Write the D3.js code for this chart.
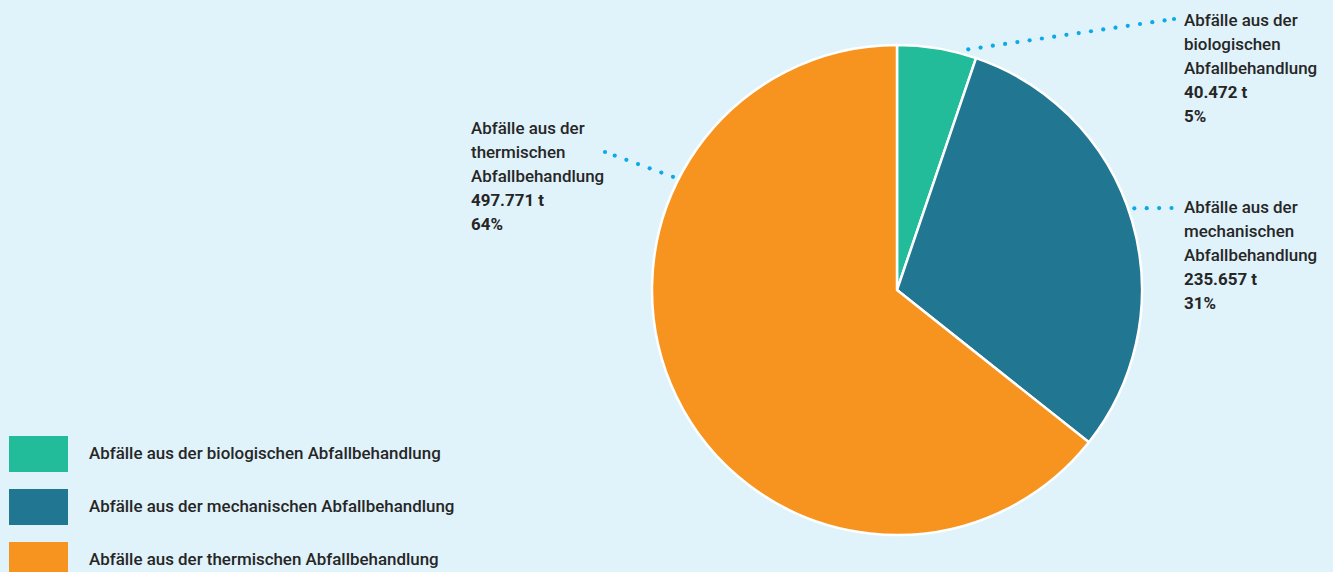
<!DOCTYPE html>
<html><head><meta charset="utf-8">
<script src="https://cdn.jsdelivr.net/npm/d3@7"></script>
<style>
html,body{margin:0;padding:0;background:#e0f2fa;}
svg{display:block;font-family:Roboto,"Liberation Sans",Arial,sans-serif;}
</style></head><body>
<svg id="chart" width="1333" height="572"></svg>
<script>
const categories = ["Abfälle aus der biologischen Abfallbehandlung","Abfälle aus der mechanischen Abfallbehandlung","Abfälle aus der thermischen Abfallbehandlung"];
const labelLines = [["Abfälle aus der","biologischen","Abfallbehandlung"],["Abfälle aus der","mechanischen","Abfallbehandlung"],["Abfälle aus der","thermischen","Abfallbehandlung"]];
const values = [40472, 235657, 497771];
const valueLabels = ["40.472 t","235.657 t","497.771 t"];
const percentLabels = ["5%","31%","64%"];
const colors = ["#23bc9b","#217691","#f7941f"];

const W=1333,H=572, cx=897, cy=290, R=245;
const svg=d3.select("#chart");
svg.append("rect").attr("width",W).attr("height",H).attr("fill","#e0f2fa");

// fit font size so the first legend entry is ~352px wide
const probe=svg.append("text").attr("font-size",16).attr("font-weight",500).text(categories[0]);
const fs=Math.min(18,Math.max(14,16*352/probe.node().getComputedTextLength()));
probe.remove();

const pie=d3.pie().sort(null).value(d=>d)(values);
const arc=d3.arc().innerRadius(0).outerRadius(R);
const g=svg.append("g").attr("transform",`translate(${cx},${cy})`);
g.selectAll("path").data(pie).join("path").attr("d",arc).attr("fill",(d,i)=>colors[i]).attr("stroke","#fff").attr("stroke-width",2.5).attr("stroke-linejoin","round");

// label layout
const labelPos=[{x:1184,y:26,leadAngle:16.5,end:[1174,19]},{x:1184,y:213,leadAngle:71,end:[1172,208]},{x:471,y:134,leadAngle:296.8,end:[605,152]}];
const lh=24;
labelPos.forEach((p,i)=>{
  const a=p.leadAngle*Math.PI/180, rr=R+6;
  const s=[cx+rr*Math.sin(a), cy-rr*Math.cos(a)];
  const e=p.end;
  const len=Math.hypot(e[0]-s[0],e[1]-s[1]);
  const n=Math.floor(len/12.4);
  const pts=d3.range(n+1).map(k=>[s[0]+(e[0]-s[0])*k*12.4/len, s[1]+(e[1]-s[1])*k*12.4/len]);
  if(len-n*12.4>3) pts.push(e);
  svg.append("g").selectAll("circle").data(pts).join("circle").attr("cx",d=>d[0]).attr("cy",d=>d[1]).attr("r",2.1).attr("fill","#0aa9ea");
  const t=svg.append("text").attr("x",p.x).attr("y",p.y).attr("fill","#262626").attr("font-size",fs).attr("font-weight",500);
  labelLines[i].forEach((l,k)=>t.append("tspan").attr("x",p.x).attr("y",p.y+k*lh).text(l));
  t.append("tspan").attr("x",p.x).attr("y",p.y+3*lh).attr("font-weight","bold").text(valueLabels[i]);
  t.append("tspan").attr("x",p.x).attr("y",p.y+4*lh).attr("font-weight","bold").text(percentLabels[i]);
});

// legend
const lg=svg.append("g");
categories.forEach((c,i)=>{
  lg.append("rect").attr("x",9).attr("y",436+i*53).attr("width",59).attr("height",36).attr("fill",colors[i]);
  lg.append("text").attr("x",89).attr("y",459+i*53).attr("font-size",fs).attr("font-weight",500).attr("fill","#262626").text(c);
});
</script></body></html>
